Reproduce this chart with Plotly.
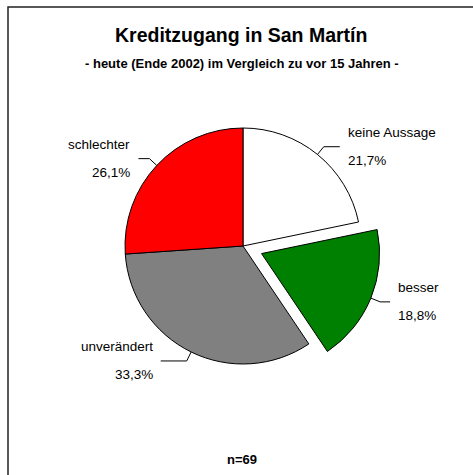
import math
import plotly.graph_objects as go

# ---- data ----
categories = ["keine Aussage", "besser", "unverändert", "schlechter"]
counts = [15, 13, 23, 18]          # n = 69
pct_labels = ["21,7%", "18,8%", "33,3%", "26,1%"]
colors = ["#FFFFFF", "#008000", "#808080", "#FF0000"]
pulls = [0, 0.17, 0, 0]
leader_len = [16, 10, 26, 11]      # horizontal leader-line length (style)
title_text = "Kreditzugang in San Martín"
subtitle_text = "- heute (Ende 2002) im Vergleich zu vor 15 Jahren -"
n_text = "n=69"

# ---- layout constants (pixels) ----
W, H = 473, 475
CX, CY, R = 243, 246, 118
maxpull = max(pulls)
half = R * (1 + maxpull)


def px(x):
    return x / W


def py(y):
    return 1 - y / H


fig = go.Figure(go.Pie(
    labels=categories, values=counts, sort=False, direction="clockwise",
    rotation=0, pull=pulls, textinfo="none", hoverinfo="label+percent",
    marker=dict(colors=colors, line=dict(color="black", width=1)),
    domain=dict(x=[px(CX - half), px(CX + half)],
                y=[py(CY + half), py(CY - half)]),
    showlegend=False,
))

annotations = []
shapes = []
total = sum(counts)
cum = 0
lab_font = dict(family="Liberation Sans, Arial", size=13.5, color="black")
for cat, v, p, pull, ll in zip(categories, counts, pct_labels, pulls, leader_len):
    mid = (cum + v / 2) / total * 2 * math.pi
    cum += v
    dx, dy = math.sin(mid), -math.cos(mid)
    cx = CX + pull * R * dx
    cy = CY + pull * R * dy
    ax, ay = cx + R * dx, cy + R * dy
    ex, ey = cx + (R + 10) * dx, cy + (R + 10) * dy
    side = 1 if dx >= 0 else -1
    hx = ex + side * ll
    shapes.append(dict(type="path", xref="paper", yref="paper",
                       path=f"M {px(ax)},{py(ay)} L {px(ex)},{py(ey)} L {px(hx)},{py(ey)}",
                       line=dict(color="black", width=1)))
    tx = hx + side * 6
    anchor = "left" if side > 0 else "right"
    annotations.append(dict(x=px(tx), y=py(ey - 14), xref="paper", yref="paper",
                            text=cat, showarrow=False, xanchor=anchor,
                            yanchor="middle", font=lab_font))
    annotations.append(dict(x=px(tx), y=py(ey + 14), xref="paper", yref="paper",
                            text=p, showarrow=False, xanchor=anchor,
                            yanchor="middle", font=lab_font))

annotations.append(dict(x=px(241), y=py(35), xref="paper", yref="paper",
                        text=f"<b>{title_text}</b>", showarrow=False,
                        xanchor="center", yanchor="middle",
                        font=dict(family="Liberation Sans, Arial", size=19.5, color="black")))
annotations.append(dict(x=px(242), y=py(63), xref="paper", yref="paper",
                        text=f"<b>{subtitle_text}</b>", showarrow=False,
                        xanchor="center", yanchor="middle",
                        font=dict(family="Liberation Sans, Arial", size=13, color="black")))
annotations.append(dict(x=px(242), y=py(459), xref="paper", yref="paper",
                        text=f"<b>{n_text}</b>", showarrow=False,
                        xanchor="center", yanchor="middle",
                        font=dict(family="Liberation Sans, Arial", size=13, color="black")))

# outer frame (only top and left edges visible in the image)
shapes.append(dict(type="rect", xref="paper", yref="paper",
                   x0=px(8), y0=py(520), x1=px(520), y1=py(7),
                   line=dict(color="#222222", width=1.5)))

fig.update_layout(width=W, height=H, margin=dict(l=0, r=0, t=0, b=0),
                  paper_bgcolor="white", plot_bgcolor="white",
                  annotations=annotations, shapes=shapes)
fig.write_html("out.html", config={"displayModeBar": False},
               post_script="document.body.style.margin='0px';document.body.style.overflow='hidden';")
